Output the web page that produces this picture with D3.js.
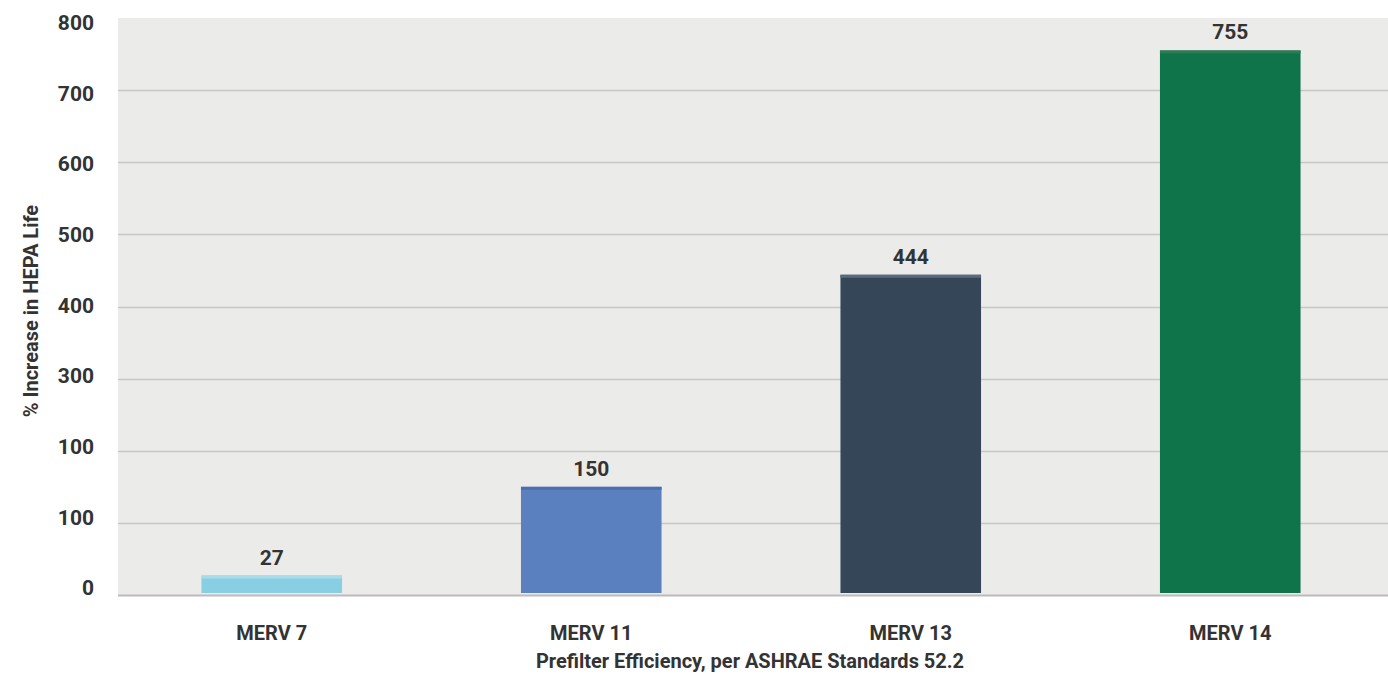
<!DOCTYPE html>
<html>
<head>
<meta charset="utf-8">
<script src="https://cdn.jsdelivr.net/npm/d3@7/dist/d3.min.js"></script>
<style>
  html, body { margin: 0; padding: 0; background: #ffffff; }
  svg { display: block; }
  text { font-family: "Roboto", "Liberation Sans", sans-serif; font-weight: bold; fill: #333333; }
</style>
</head>
<body>
<svg id="chart" width="1388" height="674"></svg>
<script>
// Filter classes and the percent increase in HEPA life for each
const categories = ["MERV 7", "MERV 11", "MERV 13", "MERV 14"];
const values = [27, 150, 444, 755];
const barColors = ["#88cfe3", "#5a80bf", "#344657", "#10744b"];
const topColors = ["#a9dcea", "#4b6fae", "#5a6b7b", "#2f7a55"];
// Tick values and the labels printed beside them
const tickValues = [0, 100, 200, 300, 400, 500, 600, 700, 800];
const tickLabels = ["0", "100", "100", "300", "400", "500", "600", "700", "800"];

const svg = d3.select("#chart");
const plot = { left: 118, right: 1388, top: 18, bottom: 595 };

const x = d3.scaleBand()
  .domain(categories)
  .range([112, 1390])
  .paddingInner(0.56)
  .paddingOuter(0.28);

const y = d3.scaleLinear()
  .domain([0, 800])
  .range([plot.bottom, plot.top]);

// Tick labels sit on a slightly tighter column than the gridlines
const yLabel = d3.scaleLinear()
  .domain([0, 800])
  .range([588, 23]);

// Plot background
svg.append("rect")
  .attr("x", plot.left).attr("y", plot.top)
  .attr("width", plot.right - plot.left).attr("height", plot.bottom - plot.top)
  .attr("fill", "#ebebea");

// Gridlines
svg.append("g")
  .selectAll("line")
  .data(tickValues.filter(d => d > 0 && d < 800))
  .join("line")
  .attr("x1", plot.left).attr("x2", plot.right)
  .attr("y1", d => Math.round(y(d)) + 0.5).attr("y2", d => Math.round(y(d)) + 0.5)
  .attr("stroke", "#c6c6c6").attr("stroke-width", 1.5);

// Y axis labels
const yAxis = d3.axisLeft(yLabel)
  .tickValues(tickValues)
  .tickFormat((d, i) => tickLabels[i])
  .tickSize(0)
  .tickPadding(0);
const gy = svg.append("g").attr("transform", "translate(94,0)").call(yAxis);
gy.select(".domain").remove();
gy.selectAll("text")
  .style("font-size", "21px")
  .attr("fill", "#333333");

// Bars
const bars = svg.append("g");
bars.selectAll("rect.bar")
  .data(values)
  .join("rect")
  .attr("class", "bar")
  .attr("x", (d, i) => x(categories[i]))
  .attr("y", d => y(d))
  .attr("width", x.bandwidth())
  .attr("height", d => y(0) - y(d) - 2)
  .attr("fill", (d, i) => barColors[i]);

bars.selectAll("rect.cap")
  .data(values)
  .join("rect")
  .attr("class", "cap")
  .attr("x", (d, i) => x(categories[i]))
  .attr("y", d => y(d))
  .attr("width", x.bandwidth())
  .attr("height", 3)
  .attr("fill", (d, i) => topColors[i]);

// Baseline
svg.append("line")
  .attr("x1", plot.left).attr("x2", plot.right)
  .attr("y1", plot.bottom + 0.5).attr("y2", plot.bottom + 0.5)
  .attr("stroke", "#bdbaba").attr("stroke-width", 2);

// Value labels
svg.append("g")
  .selectAll("text")
  .data(values)
  .join("text")
  .attr("x", (d, i) => x(categories[i]) + x.bandwidth() / 2)
  .attr("y", d => y(d) - 11)
  .attr("text-anchor", "middle")
  .style("font-size", "21px")
  .text(d => d);

// Category labels
const xAxis = d3.axisBottom(x).tickSize(0).tickPadding(0);
const gx = svg.append("g").attr("transform", "translate(0,640)").call(xAxis);
gx.select(".domain").remove();
gx.selectAll("text")
  .attr("dy", 0)
  .style("font-size", "20px")
  .attr("fill", "#333333");

// Axis titles
svg.append("text")
  .attr("x", 750).attr("y", 668)
  .attr("text-anchor", "middle")
  .style("font-size", "20px")
  .text("Prefilter Efficiency, per ASHRAE Standards 52.2");

svg.append("text")
  .attr("transform", "translate(38,311) rotate(-90)")
  .attr("text-anchor", "middle")
  .style("font-size", "20px")
  .text("% Increase in HEPA Life");
</script>
</body>
</html>
